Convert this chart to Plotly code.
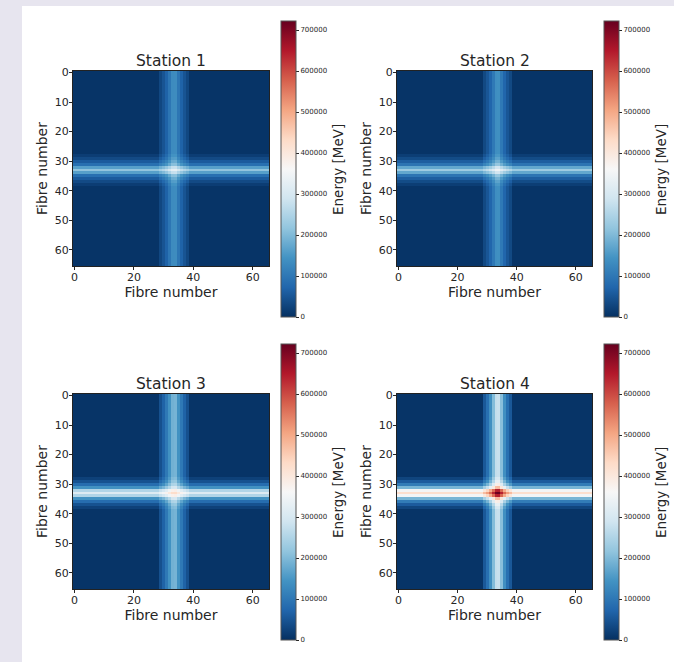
import plotly.graph_objects as go

stations = ["Station 1", "Station 2", "Station 3", "Station 4"]
fibres = list(range(66))
x_ticks = [0, 20, 40, 60]
y_ticks = [0, 10, 20, 30, 40, 50, 60]
cbar_ticks = [0, 100000, 200000, 300000, 400000, 500000, 600000, 700000]
z_max = 722000

# Energy along the vertical band (fibres 29-38), per station, kMeV
col_band = [
    [28, 45, 65, 95, 128, 130, 95, 65, 45, 28],
    [30, 48, 70, 100, 134, 136, 100, 70, 48, 30],
    [40, 65, 100, 140, 185, 190, 140, 100, 65, 40],
    [50, 85, 135, 200, 270, 275, 205, 135, 85, 50],
]
# Energy along the horizontal band (fibres 28-38), per station, kMeV
row_band = [
    [15, 32, 55, 85, 160, 215, 160, 85, 55, 32, 15],
    [16, 34, 58, 92, 170, 228, 170, 92, 58, 34, 16],
    [20, 42, 80, 140, 250, 310, 250, 140, 80, 42, 20],
    [25, 55, 105, 190, 350, 420, 350, 190, 105, 55, 25],
]
# Extra energy where the bands cross, per station, as a fraction of the product
cross_gain = [-0.05, -0.05, -0.12, 0.02]
baseline = 3

col_profiles = [[baseline] * 29 + b + [baseline] * 27 for b in col_band]
row_profiles = [[baseline] * 28 + b + [baseline] * 27 for b in row_band]

RdBu_r = [
    [0.0, "#053061"], [0.1, "#2166ac"], [0.2, "#4393c3"], [0.3, "#92c5de"],
    [0.4, "#d1e5f0"], [0.5, "#f7f7f7"], [0.6, "#fddbc7"], [0.7, "#f4a582"],
    [0.8, "#d6604d"], [0.9, "#b2182b"], [1.0, "#67001f"],
]

W, H = 674, 662
FONT = "DejaVu Sans"
INK = "#262626"


def px(v):
    return v / W


def py(v):
    return 1 - v / H


panels = [
    (73, 269, 71, 266, 281, 21, 317),
    (397, 592, 71, 266, 604, 21, 317),
    (73, 269, 394, 589, 281, 344, 640),
    (397, 592, 394, 589, 604, 344, 640),
]

fig = go.Figure()
annotations = []
for i, (x0, x1, y0, y1, cx, c0, c1) in enumerate(panels):
    n = "" if i == 0 else str(i + 1)
    cols, rows = col_profiles[i], row_profiles[i]
    z = [[(r + c + cross_gain[i] * r * c / 100) * 1000 for c in cols] for r in rows]
    fig.add_trace(go.Heatmap(
        z=z, x=fibres, y=fibres, xaxis="x" + n, yaxis="y" + n,
        colorscale=RdBu_r, zmin=0, zmax=z_max, zsmooth=False,
        colorbar=dict(
            x=px(cx), xanchor="left", xpad=0, ypad=0,
            y=py(c1), yanchor="bottom", len=(c1 - c0) / H, lenmode="fraction",
            thickness=15, thicknessmode="pixels",
            outlinewidth=1, outlinecolor="#555555",
            tickvals=cbar_ticks, ticktext=[str(t) for t in cbar_ticks],
            ticks="outside", ticklen=3, tickwidth=1, tickcolor=INK,
            tickfont=dict(family=FONT, size=7, color=INK),
        ),
    ))
    axis = dict(showgrid=False, zeroline=False, showline=True, mirror=True,
                linecolor="#222222", linewidth=1, ticks="outside", ticklen=3,
                tickwidth=1, tickcolor=INK, ticklabelstandoff=-2,
                tickfont=dict(family=FONT, size=11, color=INK))
    fig.layout["xaxis" + n] = dict(
        axis, domain=[px(x0), px(x1)], range=[-0.5, 65.5], tickvals=x_ticks,
        anchor="y" + n, title=dict(text="Fibre number", standoff=0,
                                   font=dict(family=FONT, size=14, color=INK)))
    fig.layout["yaxis" + n] = dict(
        axis, domain=[py(y1), py(y0)], range=[65.5, -0.5], tickvals=y_ticks,
        anchor="x" + n, title=dict(text="Fibre number", standoff=3,
                                   font=dict(family=FONT, size=14, color=INK)))
    annotations.append(dict(
        text=stations[i], showarrow=False, xref="paper", yref="paper",
        x=px((x0 + x1) / 2), y=py(y0 + 1), xanchor="center", yanchor="bottom",
        font=dict(family=FONT, size=15.5, color=INK)))
    annotations.append(dict(
        text="Energy [MeV]", showarrow=False, xref="paper", yref="paper",
        textangle=-90, x=px(cx + 57), y=py((c0 + c1) / 2 + 1),
        xanchor="center", yanchor="middle",
        font=dict(family=FONT, size=13.5, color=INK)))

fig.update_layout(
    width=W, height=H, autosize=False,
    margin=dict(l=0, r=0, t=0, b=0, autoexpand=False),
    paper_bgcolor="#e7e5ef", plot_bgcolor="white",
    annotations=annotations,
    shapes=[dict(type="rect", xref="paper", yref="paper", layer="below",
                 x0=22 / W, x1=1, y0=0, y1=py(6),
                 fillcolor="white", line_width=0)],
)
fig.write_html("out.html", config={"displayModeBar": False},
               post_script="document.body.style.margin='0';")
